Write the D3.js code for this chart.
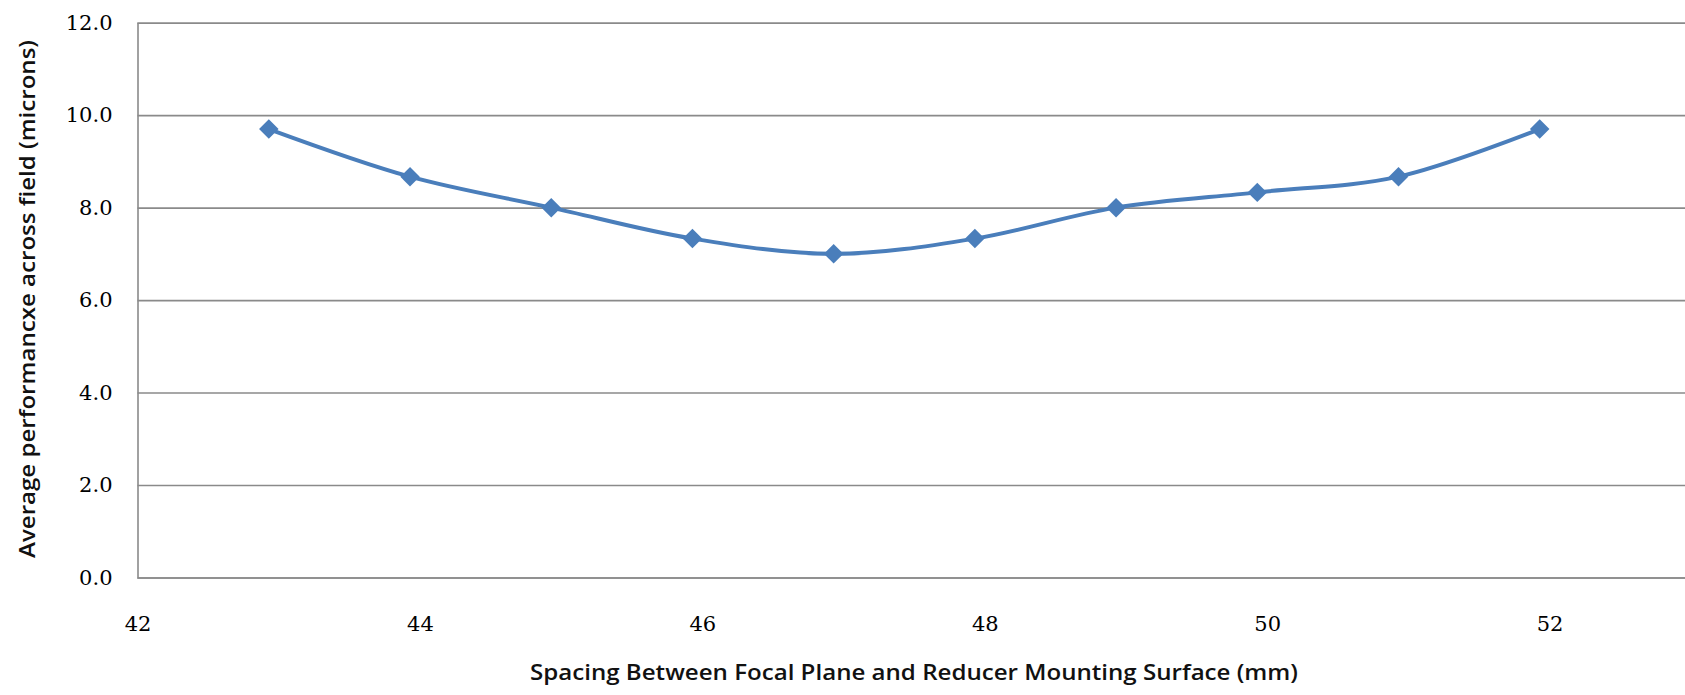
<!DOCTYPE html>
<html>
<head>
<meta charset="utf-8">
<script src="https://cdn.jsdelivr.net/npm/d3@7"></script>
<style>
    body { margin: 0; background: #ffffff; overflow: hidden; }
    .tick text { font-family: "DejaVu Serif", serif; font-size: 21px; fill: #000; }
</style>
</head>
<body>
<div id="canvas"></div>
<script>
"use strict"

/* Configuration variables: drawing */
let svgWidth = 1685;
let svgHeight = 695;
/* Configuration variables: plot area (plot runs past the right edge of the window) */
let leftMargin = 137.5;
let topMargin = 22.7;
let plotBottom = 577.5;
let plotRight = 1832;

/* Data */
let spacingMm = [42.93, 43.93, 44.93, 45.93, 46.93, 47.93, 48.93, 49.93, 50.93, 51.93];
let avgMicrons = [9.7, 8.67, 8.0, 7.33, 7.0, 7.33, 8.0, 8.33, 8.67, 9.7];
let xTicks = [42, 44, 46, 48, 50, 52];
let yTicks = [0, 2, 4, 6, 8, 10, 12];

let svg = d3.select("#canvas")
    .append("svg")
    .attr("width", svgWidth)
    .attr("height", svgHeight);

svg.append("rect")
    .attr("width", svgWidth)
    .attr("height", svgHeight)
    .attr("fill", "white");

/* Scales */
let xScale = d3.scaleLinear()
    .domain([42, 54])
    .range([leftMargin, plotRight]);

let yScale = d3.scaleLinear()
    .domain([0, 12])
    .range([plotBottom, topMargin]);

/* Y axis with horizontal gridlines */
let yAxis = svg.append("g")
    .attr("transform", `translate(${leftMargin},0)`)
    .call(d3.axisLeft(yScale)
        .tickValues(yTicks)
        .tickFormat(d3.format(".1f"))
        .tickSize(-(plotRight - leftMargin))
        .tickPadding(25));

yAxis.selectAll(".tick line")
    .attr("stroke", "#8a8a8a")
    .attr("stroke-width", 1.6);
yAxis.select(".domain")
    .attr("stroke", "#8a8a8a")
    .attr("stroke-width", 1.6);

/* X axis, labels only (the 0.0 gridline is the axis line) */
let xAxis = svg.append("g")
    .attr("transform", `translate(0,${plotBottom})`)
    .call(d3.axisBottom(xScale)
        .tickValues(xTicks)
        .tickSize(0)
        .tickPadding(39));
xAxis.select(".domain").remove();

/* Smoothed line */
let points = spacingMm.map(function (value, index) {
    return { x: value, y: avgMicrons[index] };
});

let line = d3.line()
    .x(function (d) { return xScale(d.x); })
    .y(function (d) { return yScale(d.y); })
    .curve(d3.curveCatmullRom.alpha(0.5));

svg.append("path")
    .datum(points)
    .attr("d", line)
    .attr("fill", "none")
    .attr("stroke", "#4A7EBB")
    .attr("stroke-width", 4);

/* Diamond markers (squares turned 45 degrees) */
svg.selectAll(".marker")
    .data(points)
    .join("path")
    .attr("class", "marker")
    .attr("d", d3.symbol(d3.symbolSquare, 190))
    .attr("transform", function (d) {
        return `translate(${xScale(d.x)},${yScale(d.y)}) rotate(45)`;
    })
    .attr("fill", "#4A7EBB");

/**** label the axes ****/
svg.append("text")
    .attr("x", 914)
    .attr("y", 680)
    .attr("text-anchor", "middle")
    .attr("font-family", "'Open Sans', sans-serif")
    .attr("font-weight", 600)
    .attr("font-size", 21)
    .attr("textLength", 768)
    .attr("lengthAdjust", "spacingAndGlyphs")
    .attr("fill", "#111")
    .text("Spacing Between Focal Plane and Reducer Mounting Surface (mm)");

svg.append("text")
    .attr("transform", "translate(35,299) rotate(-90)")
    .attr("text-anchor", "middle")
    .attr("font-family", "'Open Sans', sans-serif")
    .attr("font-weight", 600)
    .attr("font-size", 21)
    .attr("textLength", 518)
    .attr("lengthAdjust", "spacingAndGlyphs")
    .attr("fill", "#111")
    .text("Average performancxe across field (microns)");
</script>
</body>
</html>
